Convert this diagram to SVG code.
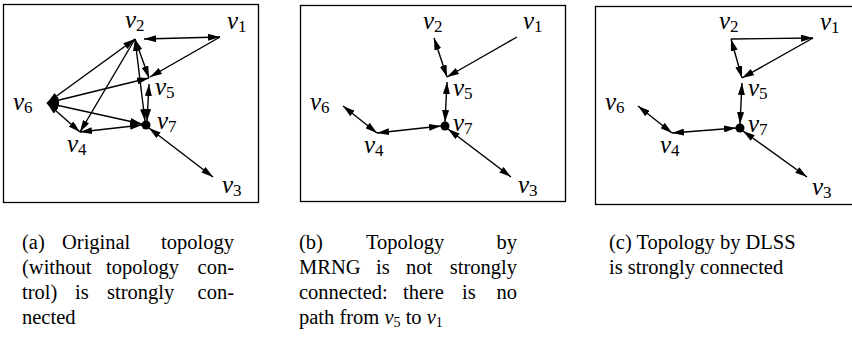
<svg xmlns="http://www.w3.org/2000/svg" width="852" height="341" viewBox="0 0 852 341">
<style>
.box{fill:none;stroke:#000;stroke-width:1.3}
.e{stroke:#000;stroke-width:1.4;fill:none}
.lab{font-family:'Liberation Serif','Times New Roman','DejaVu Serif',serif;font-style:italic;font-size:25px;fill:#000}
.sub{font-style:normal;font-size:17px}
.cap{font-family:'Liberation Serif','Times New Roman','DejaVu Serif',serif;font-size:20.5px;fill:#000}
.capv{font-style:italic}
.capsub{font-size:14px}
</style>
<defs>
<marker id="ah" viewBox="0 0 12 7" refX="12" refY="3.5" markerWidth="12" markerHeight="7" markerUnits="userSpaceOnUse" orient="auto-start-reverse">
<path d="M0,0 L12,3.5 L0,7 z" fill="#000"/>
</marker>
</defs>
<rect class="box" x="3.5" y="4.5" width="255" height="198"/>
<rect class="box" x="300.5" y="5.5" width="265" height="196"/>
<rect class="box" x="595.5" y="6.5" width="262" height="198"/>
<g id="connectors">
<line class="e" x1="144" y1="39" x2="220" y2="37" marker-start="url(#ah)" marker-end="url(#ah)"/>
<line class="e" x1="220" y1="37" x2="150" y2="77" marker-end="url(#ah)"/>
<line class="e" x1="135" y1="39" x2="47" y2="103" marker-start="url(#ah)" marker-end="url(#ah)"/>
<line class="e" x1="135" y1="39" x2="80" y2="132" marker-end="url(#ah)"/>
<line class="e" x1="135" y1="39" x2="149" y2="78" marker-start="url(#ah)" marker-end="url(#ah)"/>
<line class="e" x1="135" y1="39" x2="145" y2="121" marker-start="url(#ah)" marker-end="url(#ah)"/>
<line class="e" x1="149" y1="84" x2="147" y2="121" marker-start="url(#ah)" marker-end="url(#ah)"/>
<line class="e" x1="47" y1="103" x2="149" y2="78" marker-start="url(#ah)" marker-end="url(#ah)"/>
<line class="e" x1="47" y1="103" x2="142" y2="124" marker-start="url(#ah)" marker-end="url(#ah)"/>
<line class="e" x1="47" y1="103" x2="80" y2="132" marker-start="url(#ah)" marker-end="url(#ah)"/>
<line class="e" x1="80" y1="132" x2="142" y2="125" marker-start="url(#ah)" marker-end="url(#ah)"/>
<line class="e" x1="149" y1="128" x2="213" y2="177" marker-start="url(#ah)" marker-end="url(#ah)"/>
<line class="e" x1="434" y1="38" x2="447" y2="77" marker-start="url(#ah)" marker-end="url(#ah)"/>
<line class="e" x1="517" y1="37" x2="447" y2="77" marker-end="url(#ah)"/>
<line class="e" x1="447" y1="82" x2="445" y2="122" marker-start="url(#ah)" marker-end="url(#ah)"/>
<line class="e" x1="377" y1="133" x2="441" y2="126" marker-start="url(#ah)" marker-end="url(#ah)"/>
<line class="e" x1="343" y1="106" x2="377" y2="133" marker-start="url(#ah)" marker-end="url(#ah)"/>
<line class="e" x1="448" y1="129" x2="511" y2="177" marker-start="url(#ah)" marker-end="url(#ah)"/>
<line class="e" x1="731" y1="39" x2="813" y2="38" marker-end="url(#ah)"/>
<line class="e" x1="813" y1="38" x2="742" y2="78" marker-end="url(#ah)"/>
<line class="e" x1="731" y1="39" x2="742" y2="78" marker-start="url(#ah)" marker-end="url(#ah)"/>
<line class="e" x1="742" y1="83" x2="740" y2="124" marker-start="url(#ah)" marker-end="url(#ah)"/>
<line class="e" x1="672" y1="133" x2="736" y2="128" marker-start="url(#ah)" marker-end="url(#ah)"/>
<line class="e" x1="638" y1="106" x2="672" y2="133" marker-start="url(#ah)" marker-end="url(#ah)"/>
<line class="e" x1="743" y1="131" x2="807" y2="177" marker-start="url(#ah)" marker-end="url(#ah)"/>
</g>
<g id="a-v1"><text class="lab" x="227" y="29">v<tspan class="sub" dy="3">1</tspan></text></g>
<g id="a-v2"><text class="lab" x="125" y="28">v<tspan class="sub" dy="3">2</tspan></text></g>
<g id="a-v3"><text class="lab" x="222" y="193">v<tspan class="sub" dy="3">3</tspan></text></g>
<g id="a-v4"><text class="lab" x="67" y="152">v<tspan class="sub" dy="3">4</tspan></text></g>
<g id="a-v5"><text class="lab" x="155" y="95">v<tspan class="sub" dy="3">5</tspan></text></g>
<g id="a-v6"><text class="lab" x="13" y="110">v<tspan class="sub" dy="3">6</tspan></text></g>
<g id="a-v7"><circle cx="146" cy="125" r="4.5"/><text class="lab" x="157" y="129">v<tspan class="sub" dy="3">7</tspan></text></g>
<g id="b-v1"><text class="lab" x="523" y="29">v<tspan class="sub" dy="3">1</tspan></text></g>
<g id="b-v2"><text class="lab" x="423" y="29">v<tspan class="sub" dy="3">2</tspan></text></g>
<g id="b-v3"><text class="lab" x="518" y="193">v<tspan class="sub" dy="3">3</tspan></text></g>
<g id="b-v4"><text class="lab" x="364" y="153">v<tspan class="sub" dy="3">4</tspan></text></g>
<g id="b-v5"><text class="lab" x="453" y="96">v<tspan class="sub" dy="3">5</tspan></text></g>
<g id="b-v6"><text class="lab" x="310" y="110">v<tspan class="sub" dy="3">6</tspan></text></g>
<g id="b-v7"><circle cx="445" cy="126" r="4.5"/><text class="lab" x="453" y="131">v<tspan class="sub" dy="3">7</tspan></text></g>
<g id="c-v1"><text class="lab" x="820" y="30">v<tspan class="sub" dy="3">1</tspan></text></g>
<g id="c-v2"><text class="lab" x="719" y="29">v<tspan class="sub" dy="3">2</tspan></text></g>
<g id="c-v3"><text class="lab" x="812" y="195">v<tspan class="sub" dy="3">3</tspan></text></g>
<g id="c-v4"><text class="lab" x="660" y="153">v<tspan class="sub" dy="3">4</tspan></text></g>
<g id="c-v5"><text class="lab" x="748" y="96">v<tspan class="sub" dy="3">5</tspan></text></g>
<g id="c-v6"><text class="lab" x="605" y="110">v<tspan class="sub" dy="3">6</tspan></text></g>
<g id="c-v7"><circle cx="740" cy="128" r="4.5"/><text class="lab" x="748" y="132">v<tspan class="sub" dy="3">7</tspan></text></g>
<g id="caption-a" class="cap">
<text y="249"><tspan x="22">(a)</tspan><tspan x="62">Original</tspan><tspan x="234" text-anchor="end">topology</tspan></text>
<text y="274"><tspan x="22">(without</tspan><tspan x="106">topology</tspan><tspan x="234" text-anchor="end">con-</tspan></text>
<text y="299"><tspan x="22">trol)</tspan><tspan x="75">is</tspan><tspan x="107">strongly</tspan><tspan x="234" text-anchor="end">con-</tspan></text>
<text y="324" x="22">nected</text>
</g>
<g id="caption-b" class="cap">
<text y="249"><tspan x="299">(b)</tspan><tspan x="366">Topology</tspan><tspan x="517" text-anchor="end">by</tspan></text>
<text y="274"><tspan x="299">MRNG</tspan><tspan x="376">is</tspan><tspan x="406">not</tspan><tspan x="517" text-anchor="end">strongly</tspan></text>
<text y="299"><tspan x="299">connected:</tspan><tspan x="403">there</tspan><tspan x="462">is</tspan><tspan x="517" text-anchor="end">no</tspan></text>
<text y="324" x="299">path from <tspan class="capv">v</tspan><tspan class="capsub" dy="3">5</tspan><tspan dy="-3"> to </tspan><tspan class="capv">v</tspan><tspan class="capsub" dy="3">1</tspan></text>
</g>
<g id="caption-c" class="cap">
<text x="609" y="249">(c) Topology by DLSS</text>
<text x="609" y="274">is strongly connected</text>
</g>
</svg>
